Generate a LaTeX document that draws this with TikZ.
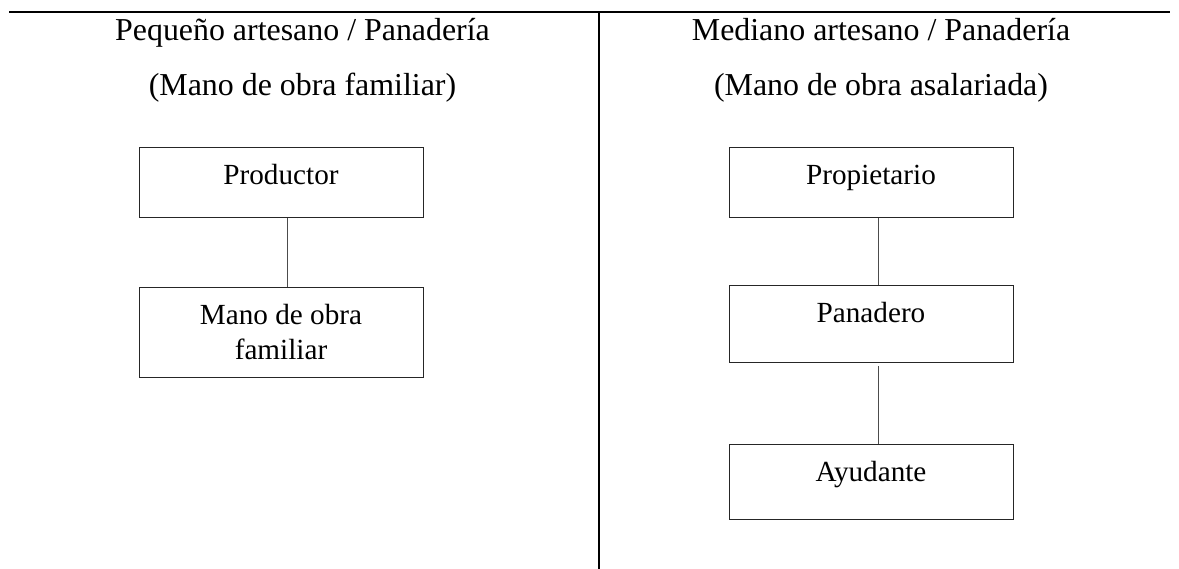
\documentclass[tikz,border=0pt]{standalone}
\usepackage{fontspec}
\setmainfont{Liberation Serif}
\begin{document}
\begin{tikzpicture}[x=1pt,y=-1pt,
  box/.style={draw=black!85,line width=1.3pt,rectangle,inner sep=0pt,anchor=north west,minimum width=284pt},
  hdr/.style={anchor=base,inner sep=0pt,font=\fontsize{31.9}{38}\selectfont},
  txt/.style={anchor=base,inner sep=0pt,font=\fontsize{29.2}{35}\selectfont},
  conn/.style={draw=black!70,line width=1.4pt},
  rule/.style={draw=black,line width=2.6pt}]
\useasboundingbox (0,0) rectangle (1179,569);
% frame lines
\coordinate (tl) at (9,12);
\coordinate (tr) at (1170,12);
\coordinate (vt) at (599,12);
\coordinate (vb) at (599,569);
\draw[rule] (tl) -- (tr);
\draw[rule] (vt) -- (vb);
% headers
\node[hdr] (h1) at (302.5,41) {Pequeño artesano / Panadería};
\node[hdr] (h2) at (302.5,96) {(Mano de obra familiar)};
\node[hdr] (h3) at (881,41) {Mediano artesano / Panadería};
\node[hdr] (h4) at (881,96) {(Mano de obra asalariada)};
% left boxes
\node[box,minimum height=70pt] (b1) at (139,147) {};
\node[box,minimum height=90pt] (b2) at (139,287) {};
\node[txt] (t1) at (281,185) {Productor};
\node[txt] (t2) at (281,325) {Mano de obra};
\node[txt] (t2b) at (281,360) {familiar};
\draw[conn] ([xshift=6pt]b1.south) -- ([xshift=6pt]b2.north);
% right boxes
\node[box,minimum height=70pt] (b3) at (729,147) {};
\node[box,minimum height=77pt] (b4) at (729,285) {};
\node[box,minimum height=75pt] (b5) at (729,444) {};
\node[txt] (t3) at (871,185) {Propietario};
\node[txt] (t4) at (871,323) {Panadero};
\node[txt] (t5) at (871,481) {Ayudante};
\draw[conn] ([xshift=7pt]b3.south) -- ([xshift=7pt]b4.north);
\draw[conn,shorten <=3pt] ([xshift=7pt]b4.south) -- ([xshift=7pt]b5.north);
\end{tikzpicture}
\end{document}
